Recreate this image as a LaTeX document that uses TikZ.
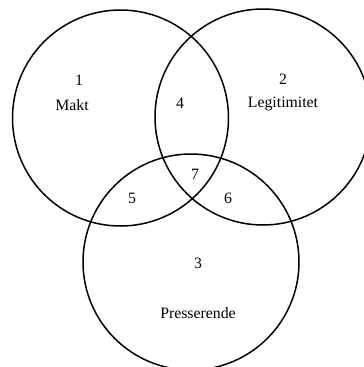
\documentclass[tikz,border=0pt]{standalone}
\usepackage{fontspec}
\setmainfont{Liberation Serif}
\begin{document}
\begin{tikzpicture}[x=1pt,y=-1pt,
  ring/.style={circle,draw=black,line width=1.5pt,minimum size=216pt,inner sep=0pt},
  lbl/.style={font=\fontsize{15.8}{17}\selectfont,inner sep=0pt}]
\useasboundingbox (0,0) rectangle (364,367);
\begin{scope}
\clip (0,0) rectangle (364,367);
\node[ring] (c1) at (120.5,118) {};
\node[ring] (c2) at (263,117) {};
\node[ring] (c3) at (191,262) {};
\end{scope}
\node[lbl] (n1) at (79,80) {1};
\node[lbl] (makt) at (72,105) {Makt};
\node[lbl] (n2) at (283,79) {2};
\node[lbl] (legit) at (283,104) {Legitimitet};
\node[lbl] (n4) at (180,103) {4};
\node[lbl] (n7) at (195,174) {7};
\node[lbl] (n5) at (132,198) {5};
\node[lbl] (n6) at (228,198) {6};
\node[lbl] (n3) at (198,263) {3};
\node[lbl] (press) at (198,313) {Presserende};
\end{tikzpicture}
\end{document}
